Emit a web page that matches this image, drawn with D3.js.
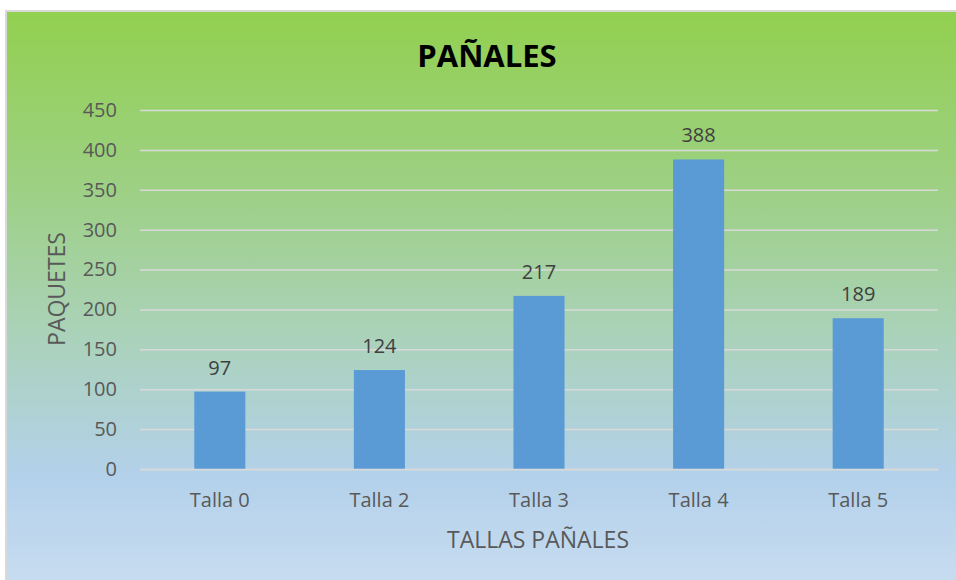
<!DOCTYPE html>
<html><head><meta charset="utf-8">
<script src="https://cdn.jsdelivr.net/npm/d3@7"></script>
<style>body{margin:0;background:#fff}text{font-family:"Open Sans",sans-serif}</style>
</head><body>
<svg id="c" width="956" height="580"></svg>
<script>
const categories = ["Talla 0","Talla 2","Talla 3","Talla 4","Talla 5"];
const values = [97,124,217,388,189];
const yTicks = [0,50,100,150,200,250,300,350,400,450];
const title = "PAÑALES";
const xTitle = "TALLAS PAÑALES";
const yTitle = "PAQUETES";

const svg = d3.select("#c");
const defs = svg.append("defs");
const g = defs.append("linearGradient").attr("id","bg").attr("x1",0).attr("y1",0).attr("x2",0).attr("y2",1);
[[0,"#92d050"],[0.3,"#9dd083"],[0.55,"#aad2b8"],[0.8,"#b3d1ea"],[1,"#c9ddf1"]].forEach(s=>g.append("stop").attr("offset",s[0]).attr("stop-color",s[1]));

svg.append("rect").attr("x",5).attr("y",10).attr("width",956).attr("height",580).attr("fill","#d9d9d9");
svg.append("rect").attr("x",7).attr("y",12).attr("width",956).attr("height",580).attr("fill","url(#bg)");

const x = d3.scaleBand().domain(categories).range([140,938]).paddingInner(0.68).paddingOuter(0.34);
const y = d3.scaleLinear().domain([0,450]).range([469,110]);

const yAxis = svg.append("g").attr("transform","translate(140,0)")
  .call(d3.axisLeft(y).tickValues(yTicks).tickSize(-798).tickPadding(23));
yAxis.select(".domain").remove();
yAxis.selectAll("line").attr("stroke","#d9d9d9").attr("stroke-width",1.5);
yAxis.selectAll("text").attr("fill","#595959").style("font-size","20px").style("font-family","Open Sans");

svg.selectAll(".bar").data(values).enter().append("rect")
  .attr("x",(d,i)=>x(categories[i])).attr("width",x.bandwidth())
  .attr("y",d=>y(d)).attr("height",d=>y(0)-y(d)).attr("fill","#5b9bd5");

const xAxis = svg.append("g").attr("transform","translate(0,469)")
  .call(d3.axisBottom(x).tickSize(0).tickPadding(24));
xAxis.select(".domain").attr("stroke","#d9d9d9").attr("stroke-width",1.5);
xAxis.selectAll("text").attr("fill","#595959").style("font-size","20px").style("font-family","Open Sans");

svg.selectAll(".lbl").data(values).enter().append("text")
  .attr("x",(d,i)=>x(categories[i])+x.bandwidth()/2).attr("y",d=>y(d)-17)
  .attr("text-anchor","middle").attr("fill","#404040").style("font-size","20px").text(d=>d);

svg.append("text").attr("x",487).attr("y",67).attr("text-anchor","middle")
  .style("font-size","31px").style("font-weight","bold").attr("fill","#000").text(title);
svg.append("text").attr("x",538).attr("y",548).attr("text-anchor","middle")
  .style("font-size","23px").attr("fill","#595959").text(xTitle);
svg.append("text").attr("transform","translate(65,289) rotate(-90)").attr("text-anchor","middle")
  .style("font-size","23px").attr("fill","#595959").text(yTitle);
</script>
</body></html>
